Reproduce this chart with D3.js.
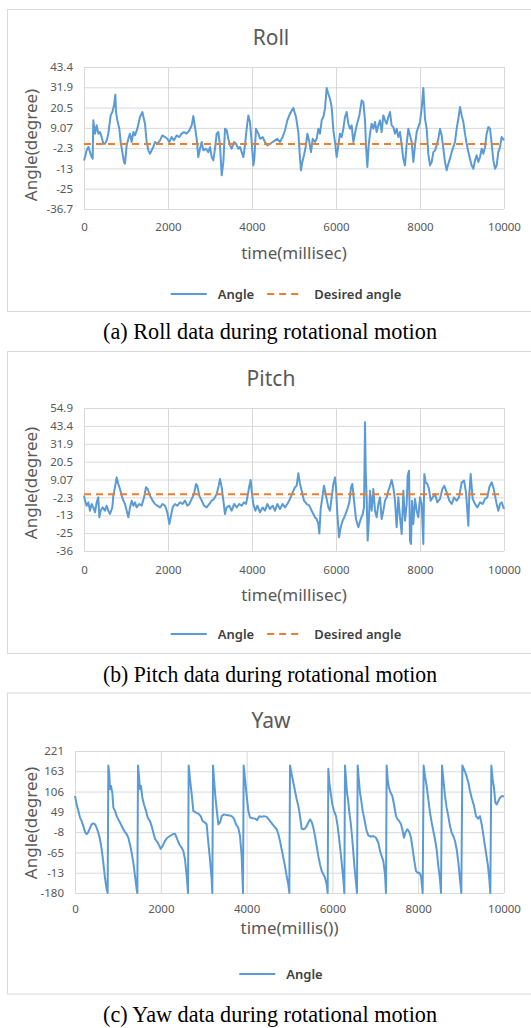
<!DOCTYPE html>
<html>
<head>
<meta charset="utf-8">
<script src="https://cdn.jsdelivr.net/npm/d3@7"></script>
<style>
  body { margin: 0; background: #fff; }
  svg { display: block; }
</style>
</head>
<body>
<svg id="chart" width="531" height="1028"></svg>
<script>
const timeTicks = [0, 2000, 4000, 6000, 8000, 10000]

const rollLabels = ["43.4", "31.9", "20.5", "9.07", "-2.3", "-13", "-25", "-36.7"]
const rollDomain = [-36.7, 43.4]
const rollDesired = [[0, 0], [10000, 0]]
const rollAngle = [[0,-9.3],[24,-7.4],[63,-3.6],[103,-1.7],[143,-4.6],[183,-7.4],[206,-8.3],[222,13.3],[262,5.8],[302,10.5],[341,5.8],[381,6.7],[421,3.9],[460,0.1],[500,0.1],[540,2.0],[579,5.8],[635,16.1],[675,18.0],[714,21.8],[746,27.8],[762,18.0],[794,13.3],[841,8.6],[873,1.1],[913,-4.6],[952,-10.2],[976,-11.1],[1016,-0.8],[1056,2.9],[1095,5.8],[1135,1.1],[1175,6.7],[1214,4.8],[1270,8.6],[1333,15.2],[1389,18.0],[1452,11.4],[1492,1.1],[1532,-3.6],[1571,-5.5],[1611,-3.6],[1651,-1.7],[1690,1.1],[1746,0.1],[1810,2.0],[1865,4.8],[1929,3.9],[1984,2.9],[2032,1.1],[2087,3.9],[2143,2.0],[2206,4.8],[2270,3.9],[2326,5.8],[2381,6.7],[2444,5.8],[2508,7.7],[2564,10.5],[2603,15.7],[2643,9.5],[2683,2.9],[2722,-7.4],[2762,-2.7],[2802,1.1],[2841,-3.6],[2905,-2.7],[2960,-4.6],[3000,-1.7],[3040,-7.4],[3080,-9.3],[3119,-2.7],[3159,5.8],[3199,6.7],[3238,-0.8],[3278,-17.7],[3318,-10.2],[3357,8.6],[3397,7.7],[3437,2.9],[3476,-0.8],[3516,-2.7],[3572,1.1],[3619,0.1],[3675,-2.7],[3714,-1.7],[3754,-4.6],[3794,-7.4],[3833,-0.8],[3873,8.6],[3913,16.1],[3952,12.4],[3992,1.1],[4032,-12.1],[4056,-8.3],[4095,8.6],[4151,5.8],[4191,2.9],[4254,3.9],[4310,1.1],[4365,-0.8],[4429,0.1],[4492,1.1],[4548,2.0],[4603,2.9],[4667,1.1],[4730,3.9],[4786,7.7],[4841,13.3],[4905,17.1],[4984,20.3],[5048,15.2],[5103,6.7],[5143,-8.3],[5167,-14.9],[5198,-10.2],[5238,-6.4],[5278,-1.7],[5318,5.8],[5365,1.1],[5405,-4.6],[5445,2.9],[5500,1.1],[5540,2.9],[5580,8.6],[5619,5.8],[5659,13.3],[5698,15.2],[5738,19.9],[5778,31.5],[5817,28.3],[5857,25.5],[5897,20.8],[5937,7.7],[5976,1.1],[6016,-7.4],[6056,-0.8],[6095,5.8],[6135,3.9],[6175,8.6],[6214,15.2],[6254,18.0],[6294,11.4],[6333,8.6],[6373,10.5],[6413,1.1],[6452,5.8],[6492,10.5],[6556,16.1],[6611,24.6],[6651,23.6],[6691,13.3],[6714,-0.8],[6746,-13.0],[6778,-0.8],[6810,5.8],[6849,11.4],[6889,8.6],[6929,12.4],[6968,6.7],[7008,10.5],[7048,13.3],[7087,6.7],[7127,16.1],[7167,13.3],[7206,11.4],[7246,15.2],[7286,18.0],[7325,10.5],[7365,9.5],[7405,5.8],[7444,8.6],[7484,3.9],[7524,6.7],[7564,-0.8],[7603,-8.3],[7643,-12.1],[7683,0.1],[7722,8.6],[7762,4.8],[7802,1.1],[7841,-10.2],[7881,-0.8],[7921,6.7],[7960,9.5],[8000,12.4],[8040,19.9],[8079,31.5],[8119,14.2],[8159,8.6],[8198,-5.5],[8238,-12.1],[8278,-10.2],[8318,-4.6],[8357,-3.6],[8397,-0.8],[8437,2.9],[8476,8.6],[8516,4.8],[8556,-2.7],[8595,-10.2],[8635,-14.9],[8675,-11.1],[8714,-8.3],[8754,-4.6],[8794,-1.7],[8833,1.1],[8873,8.6],[8913,14.2],[8952,20.8],[8992,16.1],[9032,12.4],[9071,5.8],[9111,0.1],[9151,-4.6],[9190,-8.3],[9230,-12.1],[9270,-14.0],[9310,-9.3],[9349,-6.4],[9389,-10.2],[9429,-7.4],[9468,-2.7],[9508,-5.5],[9548,-1.7],[9587,5.8],[9627,9.5],[9667,8.6],[9706,0.1],[9746,-9.3],[9786,-14.0],[9825,-12.1],[9865,-4.6],[9905,-1.7],[9944,3.9],[10000,2.0]]

const pitchLabels = ["54.9", "43.4", "31.9", "20.5", "9.07", "-2.3", "-13", "-25", "-36"]
const pitchDomain = [-36, 54.9]
const pitchDesired = [[0, 0], [10000, 0]]
const pitchAngle = [[0,-0.8],[24,-4.0],[63,-7.2],[103,-5.1],[143,-10.4],[183,-6.1],[222,-8.3],[262,-11.4],[302,-5.1],[341,-1.9],[365,-14.6],[397,-10.4],[444,-8.3],[500,-10.4],[540,-7.2],[579,-10.4],[619,-12.5],[675,-8.3],[698,-0.8],[738,4.5],[778,10.8],[817,6.6],[857,3.4],[897,-0.8],[937,-4.0],[976,-6.1],[1016,-10.4],[1056,-14.6],[1095,-8.3],[1135,-4.0],[1175,-7.2],[1214,-5.1],[1254,-8.3],[1318,-6.1],[1373,-7.2],[1429,-1.9],[1476,4.5],[1516,3.4],[1571,-0.8],[1635,-4.0],[1690,-6.1],[1746,-7.2],[1810,-8.3],[1873,-6.1],[1929,-7.2],[1984,-11.4],[2032,-18.8],[2064,-14.6],[2111,-8.3],[2167,-6.1],[2222,-7.2],[2286,-5.1],[2349,-6.1],[2405,-4.0],[2460,-7.2],[2508,-6.1],[2564,-2.9],[2619,0.2],[2667,6.6],[2698,5.5],[2746,-0.8],[2802,-4.0],[2857,-7.2],[2921,-8.3],[2984,-6.1],[3040,-4.0],[3095,-2.9],[3159,0.2],[3206,5.5],[3238,9.8],[3278,4.5],[3318,-4.0],[3357,-12.5],[3397,-8.3],[3460,-7.2],[3516,-10.4],[3572,-6.1],[3635,-8.3],[3699,-6.1],[3754,-7.2],[3810,-5.1],[3857,-6.1],[3889,-1.9],[3937,5.5],[3968,9.1],[4000,0.2],[4032,-6.1],[4080,-10.4],[4127,-7.2],[4191,-11.4],[4254,-8.3],[4310,-10.4],[4365,-6.1],[4429,-9.3],[4492,-7.2],[4548,-10.4],[4603,-6.1],[4667,-9.3],[4730,-6.1],[4786,-8.3],[4841,-6.1],[4905,-2.9],[4968,1.3],[5024,4.5],[5064,5.5],[5103,13.4],[5143,6.6],[5183,2.3],[5238,-4.0],[5302,-6.1],[5365,-7.2],[5421,-10.4],[5461,-12.5],[5500,-14.6],[5540,-15.7],[5580,-18.8],[5603,-24.8],[5635,-9.3],[5675,-1.9],[5714,5.5],[5762,-0.8],[5818,-8.3],[5857,-10.4],[5897,-1.9],[5937,6.6],[5976,10.8],[6000,4.5],[6032,-12.5],[6072,-27.3],[6111,-20.9],[6159,-16.7],[6214,-13.5],[6270,-9.3],[6318,-5.1],[6357,4.5],[6389,6.6],[6429,-4.0],[6476,-15.7],[6532,-20.9],[6588,-15.7],[6635,-12.5],[6667,-8.3],[6691,45.8],[6707,15.0],[6730,-1.9],[6754,-29.4],[6778,-18.8],[6810,2.3],[6849,-10.4],[6889,3.4],[6929,-10.4],[6968,-14.6],[7008,-6.1],[7048,-1.9],[7087,-15.7],[7127,-10.4],[7167,-4.0],[7206,-1.9],[7246,2.3],[7286,5.5],[7325,9.1],[7365,4.5],[7405,-4.0],[7444,-20.9],[7484,-1.9],[7524,-14.6],[7564,-25.2],[7603,2.3],[7643,-16.7],[7683,-6.1],[7707,11.9],[7738,15.0],[7762,-29.4],[7786,-31.6],[7810,-4.0],[7841,-18.8],[7881,-2.9],[7921,-10.4],[7960,-14.6],[8000,-1.9],[8040,-6.1],[8079,-31.6],[8103,12.9],[8135,7.6],[8175,6.6],[8214,3.4],[8254,-4.0],[8302,-1.9],[8357,0.2],[8413,-5.1],[8476,-2.9],[8532,3.4],[8580,5.5],[8635,1.3],[8699,-4.0],[8754,-6.1],[8810,-1.9],[8873,-4.0],[8929,-1.9],[8992,7.6],[9048,8.7],[9095,1.3],[9127,-10.4],[9151,-19.9],[9175,0.2],[9206,12.9],[9254,-2.9],[9310,-6.1],[9365,-8.3],[9429,-5.1],[9492,-6.1],[9548,-2.9],[9603,-1.9],[9651,4.5],[9706,7.6],[9746,4.5],[9786,-0.8],[9825,-6.1],[9865,-10.4],[9905,-6.1],[9944,-5.1],[10000,-9.3]]

const yawLabels = ["221", "163", "106", "49", "-8", "-65", "-13", "-180"]
const yawDomain = [-180, 221]
const yawAngle = [[0,94],[39,70],[78,52],[117,33],[155,23],[194,9],[233,-8],[272,-14],[311,-8],[350,4],[389,14],[427,17],[466,14],[505,4],[544,-10],[583,-29],[622,-57],[660,-94],[699,-137],[738,-170],[761,-180],[777,180],[800,155],[816,113],[839,122],[870,103],[894,61],[932,52],[971,37],[1010,28],[1049,19],[1088,9],[1127,0],[1166,-8],[1204,-14],[1243,-24],[1282,-43],[1321,-66],[1360,-94],[1399,-132],[1437,-170],[1453,-180],[1469,180],[1492,150],[1515,113],[1538,122],[1570,89],[1608,70],[1655,52],[1694,33],[1748,23],[1787,9],[1826,-10],[1865,-27],[1919,-36],[1966,-47],[1997,-55],[2044,-47],[2098,-33],[2152,-24],[2214,-19],[2277,-14],[2331,-13],[2370,-24],[2432,-43],[2486,-52],[2525,-61],[2564,-85],[2603,-132],[2634,-180],[2650,180],[2681,141],[2720,99],[2758,52],[2821,47],[2875,44],[2929,37],[2976,23],[3030,19],[3069,14],[3108,-38],[3147,-85],[3186,-142],[3201,-180],[3217,180],[3240,141],[3271,94],[3302,56],[3341,14],[3380,19],[3419,37],[3473,42],[3535,40],[3598,39],[3652,37],[3706,30],[3753,14],[3807,4],[3846,-19],[3885,-76],[3916,-180],[3932,180],[3963,141],[4002,94],[4040,52],[4079,33],[4141,31],[4196,30],[4250,26],[4297,37],[4351,35],[4406,37],[4468,35],[4530,26],[4584,17],[4639,9],[4701,0],[4740,-14],[4779,-33],[4818,-57],[4856,-80],[4895,-104],[4934,-132],[4973,-156],[4996,-180],[5012,180],[5051,155],[5089,132],[5128,108],[5167,85],[5206,66],[5245,37],[5284,2],[5322,0],[5361,2],[5400,9],[5439,19],[5478,28],[5517,21],[5556,4],[5594,-19],[5633,-47],[5672,-76],[5711,-99],[5750,-118],[5789,-127],[5828,-137],[5866,-156],[5890,-180],[5905,171],[5929,132],[5960,103],[5998,70],[6037,52],[6084,37],[6123,9],[6162,-33],[6193,-66],[6224,-104],[6255,-142],[6278,-180],[6294,180],[6317,141],[6340,103],[6364,85],[6395,47],[6426,19],[6457,-19],[6488,-66],[6519,-113],[6550,-151],[6573,-180],[6589,180],[6612,146],[6643,103],[6674,80],[6705,52],[6737,33],[6768,14],[6799,-5],[6838,-17],[6892,-21],[6954,-19],[7016,-24],[7071,-38],[7110,-61],[7148,-76],[7187,-90],[7226,-127],[7249,-180],[7265,180],[7288,141],[7319,117],[7358,103],[7397,94],[7436,70],[7483,37],[7521,28],[7560,23],[7599,14],[7638,-5],[7669,-24],[7700,-10],[7747,0],[7793,-8],[7832,-24],[7871,-57],[7910,-90],[7949,-118],[7988,-123],[8026,-123],[8065,-132],[8104,-180],[8127,180],[8158,150],[8197,122],[8236,85],[8275,47],[8314,19],[8353,-5],[8392,-29],[8430,-57],[8469,-104],[8508,-142],[8532,-180],[8555,180],[8586,141],[8625,94],[8663,61],[8702,37],[8741,9],[8780,-10],[8819,-19],[8858,-33],[8897,-57],[8936,-94],[8974,-142],[9005,-180],[9029,180],[9068,169],[9114,155],[9169,132],[9207,108],[9246,89],[9301,66],[9347,37],[9394,30],[9440,37],[9487,9],[9534,-29],[9580,-66],[9627,-104],[9658,-142],[9681,-180],[9705,180],[9736,141],[9767,117],[9798,75],[9829,70],[9868,80],[9907,89],[9953,94],[10000,92]]

const BLUE = "#5b9bd5", ORANGE = "#ed7d31", GRID = "#d9d9d9", TEXT = "#595959"
const FONT = "'Noto Sans', 'Open Sans', sans-serif"

const panels = [
  {title: "Roll", xTitle: "time(millisec)", caption: "(a) Roll data during rotational motion",
   angle: rollAngle, desired: rollDesired, domain: rollDomain, labels: rollLabels,
   box: [9.5, 311.5], left: 84, right: 504, top: 67, bottom: 209,
   titleY: 37, tickY: 227, xTitleY: 252.5, legendY: 294, legendX: 286, yTitleY: 145, captionY: 339},
  {title: "Pitch", xTitle: "time(millisec)", caption: "(b) Pitch data during rotational motion",
   angle: pitchAngle, desired: pitchDesired, domain: pitchDomain, labels: pitchLabels,
   box: [351.5, 653.5], left: 84, right: 504, top: 408, bottom: 551,
   titleY: 378, tickY: 569.5, xTitleY: 594, legendY: 634, legendX: 286, yTitleY: 483, captionY: 681.5},
  {title: "Yaw", xTitle: "time(millis())", caption: "(c) Yaw data during rotational motion",
   angle: yawAngle, desired: null, domain: yawDomain, labels: yawLabels,
   box: [693, 994], left: 75, right: 504, top: 751, bottom: 893,
   titleY: 720, tickY: 908.5, xTitleY: 927.5, legendY: 974, legendX: 281, yTitleY: 823, captionY: 1022}
]

function draw_panel(svg, p) {
  let g = svg.append("g")

  g.append("rect")
    .attr("x", 7.5).attr("y", p.box[0])
    .attr("width", 540).attr("height", p.box[1] - p.box[0])
    .attr("fill", "none").attr("stroke", GRID)

  let x = d3.scaleLinear().domain([0, 10000]).range([p.left, p.right])
  let y = d3.scaleLinear().domain(p.domain).range([p.bottom, p.top])

  // labels are read top to bottom, ticks are evenly spaced over the domain
  let n = p.labels.length
  let yTicks = d3.range(n).map(i => p.domain[0] + i * (p.domain[1] - p.domain[0]) / (n - 1))

  let yAxis = g.append("g")
    .attr("transform", `translate(${p.left},0)`)
    .call(d3.axisLeft(y)
      .tickValues(yTicks)
      .tickSize(-(p.right - p.left))
      .tickPadding(11)
      .tickFormat((d, i) => p.labels[n - 1 - i]))

  let xAxis = g.append("g")
    .attr("transform", `translate(0,${p.bottom})`)
    .call(d3.axisBottom(x)
      .tickValues(timeTicks)
      .tickSize(-(p.bottom - p.top))
      .tickFormat(d3.format("d")))

  xAxis.selectAll("text").attr("y", p.tickY - p.bottom).attr("dy", "0.35em")

  for (let ax of [xAxis, yAxis]) {
    ax.select(".domain").remove()
    ax.selectAll("line").attr("stroke", GRID)
    ax.selectAll("text")
      .attr("fill", TEXT)
      .style("font-family", FONT)
      .style("font-size", "11.5px")
  }

  let line_gen = d3.line()
    .x(d => x(d[0]))
    .y(d => y(d[1]))

  g.append("path")
    .attr("d", line_gen(p.angle))
    .attr("fill", "none")
    .attr("stroke", BLUE)
    .attr("stroke-width", 2)
    .attr("stroke-linejoin", "round")

  if (p.desired) {
    g.append("path")
      .attr("d", line_gen(p.desired))
      .attr("fill", "none")
      .attr("stroke", ORANGE)
      .attr("stroke-width", 2)
      .attr("stroke-dasharray", "7,5")
  }

  g.append("text")
    .attr("x", 271).attr("y", p.titleY)
    .attr("text-anchor", "middle").attr("dominant-baseline", "central")
    .attr("fill", TEXT)
    .style("font-family", FONT).style("font-size", "21px")
    .text(p.title)

  g.append("text")
    .attr("x", (p.left + p.right) / 2).attr("y", p.xTitleY)
    .attr("text-anchor", "middle").attr("dominant-baseline", "central")
    .attr("fill", TEXT)
    .style("font-family", FONT).style("font-size", "17px")
    .text(p.xTitle)

  g.append("text")
    .attr("transform", `translate(30,${p.yTitleY}) rotate(-90)`)
    .attr("text-anchor", "middle").attr("dominant-baseline", "central")
    .attr("fill", TEXT)
    .style("font-family", FONT).style("font-size", "17px")
    .text("Angle(degree)")

  // legend
  let items = [{name: "Angle", color: BLUE, dash: null}]
  if (p.desired) items.push({name: "Desired angle", color: ORANGE, dash: "7,5"})

  let legend = g.append("g")
  let cx = 0
  items.forEach((d, i) => {
    if (i > 0) cx += 13
    legend.append("line")
      .attr("x1", cx).attr("x2", cx + 36)
      .attr("y1", p.legendY).attr("y2", p.legendY)
      .attr("stroke", d.color).attr("stroke-width", 2)
      .attr("stroke-dasharray", d.dash)
    cx += 47
    let t = legend.append("text")
      .attr("x", cx).attr("y", p.legendY)
      .attr("dominant-baseline", "central")
      .attr("fill", "#404040")
      .style("font-family", FONT).style("font-size", "13px").style("font-weight", 600)
      .text(d.name)
    cx += t.node().getComputedTextLength()
  })
  legend.attr("transform", `translate(${p.legendX - cx / 2},0)`)

  g.append("text")
    .attr("x", 270).attr("y", p.captionY)
    .attr("text-anchor", "middle")
    .attr("fill", "#000")
    .attr("textLength", 334).attr("lengthAdjust", "spacingAndGlyphs")
    .style("font-family", "'Liberation Serif', 'Times New Roman', serif")
    .style("font-size", "24px")
    .text(p.caption)
}

let svg = d3.select("#chart")
panels.forEach(p => draw_panel(svg, p))
</script>
</body>
</html>
